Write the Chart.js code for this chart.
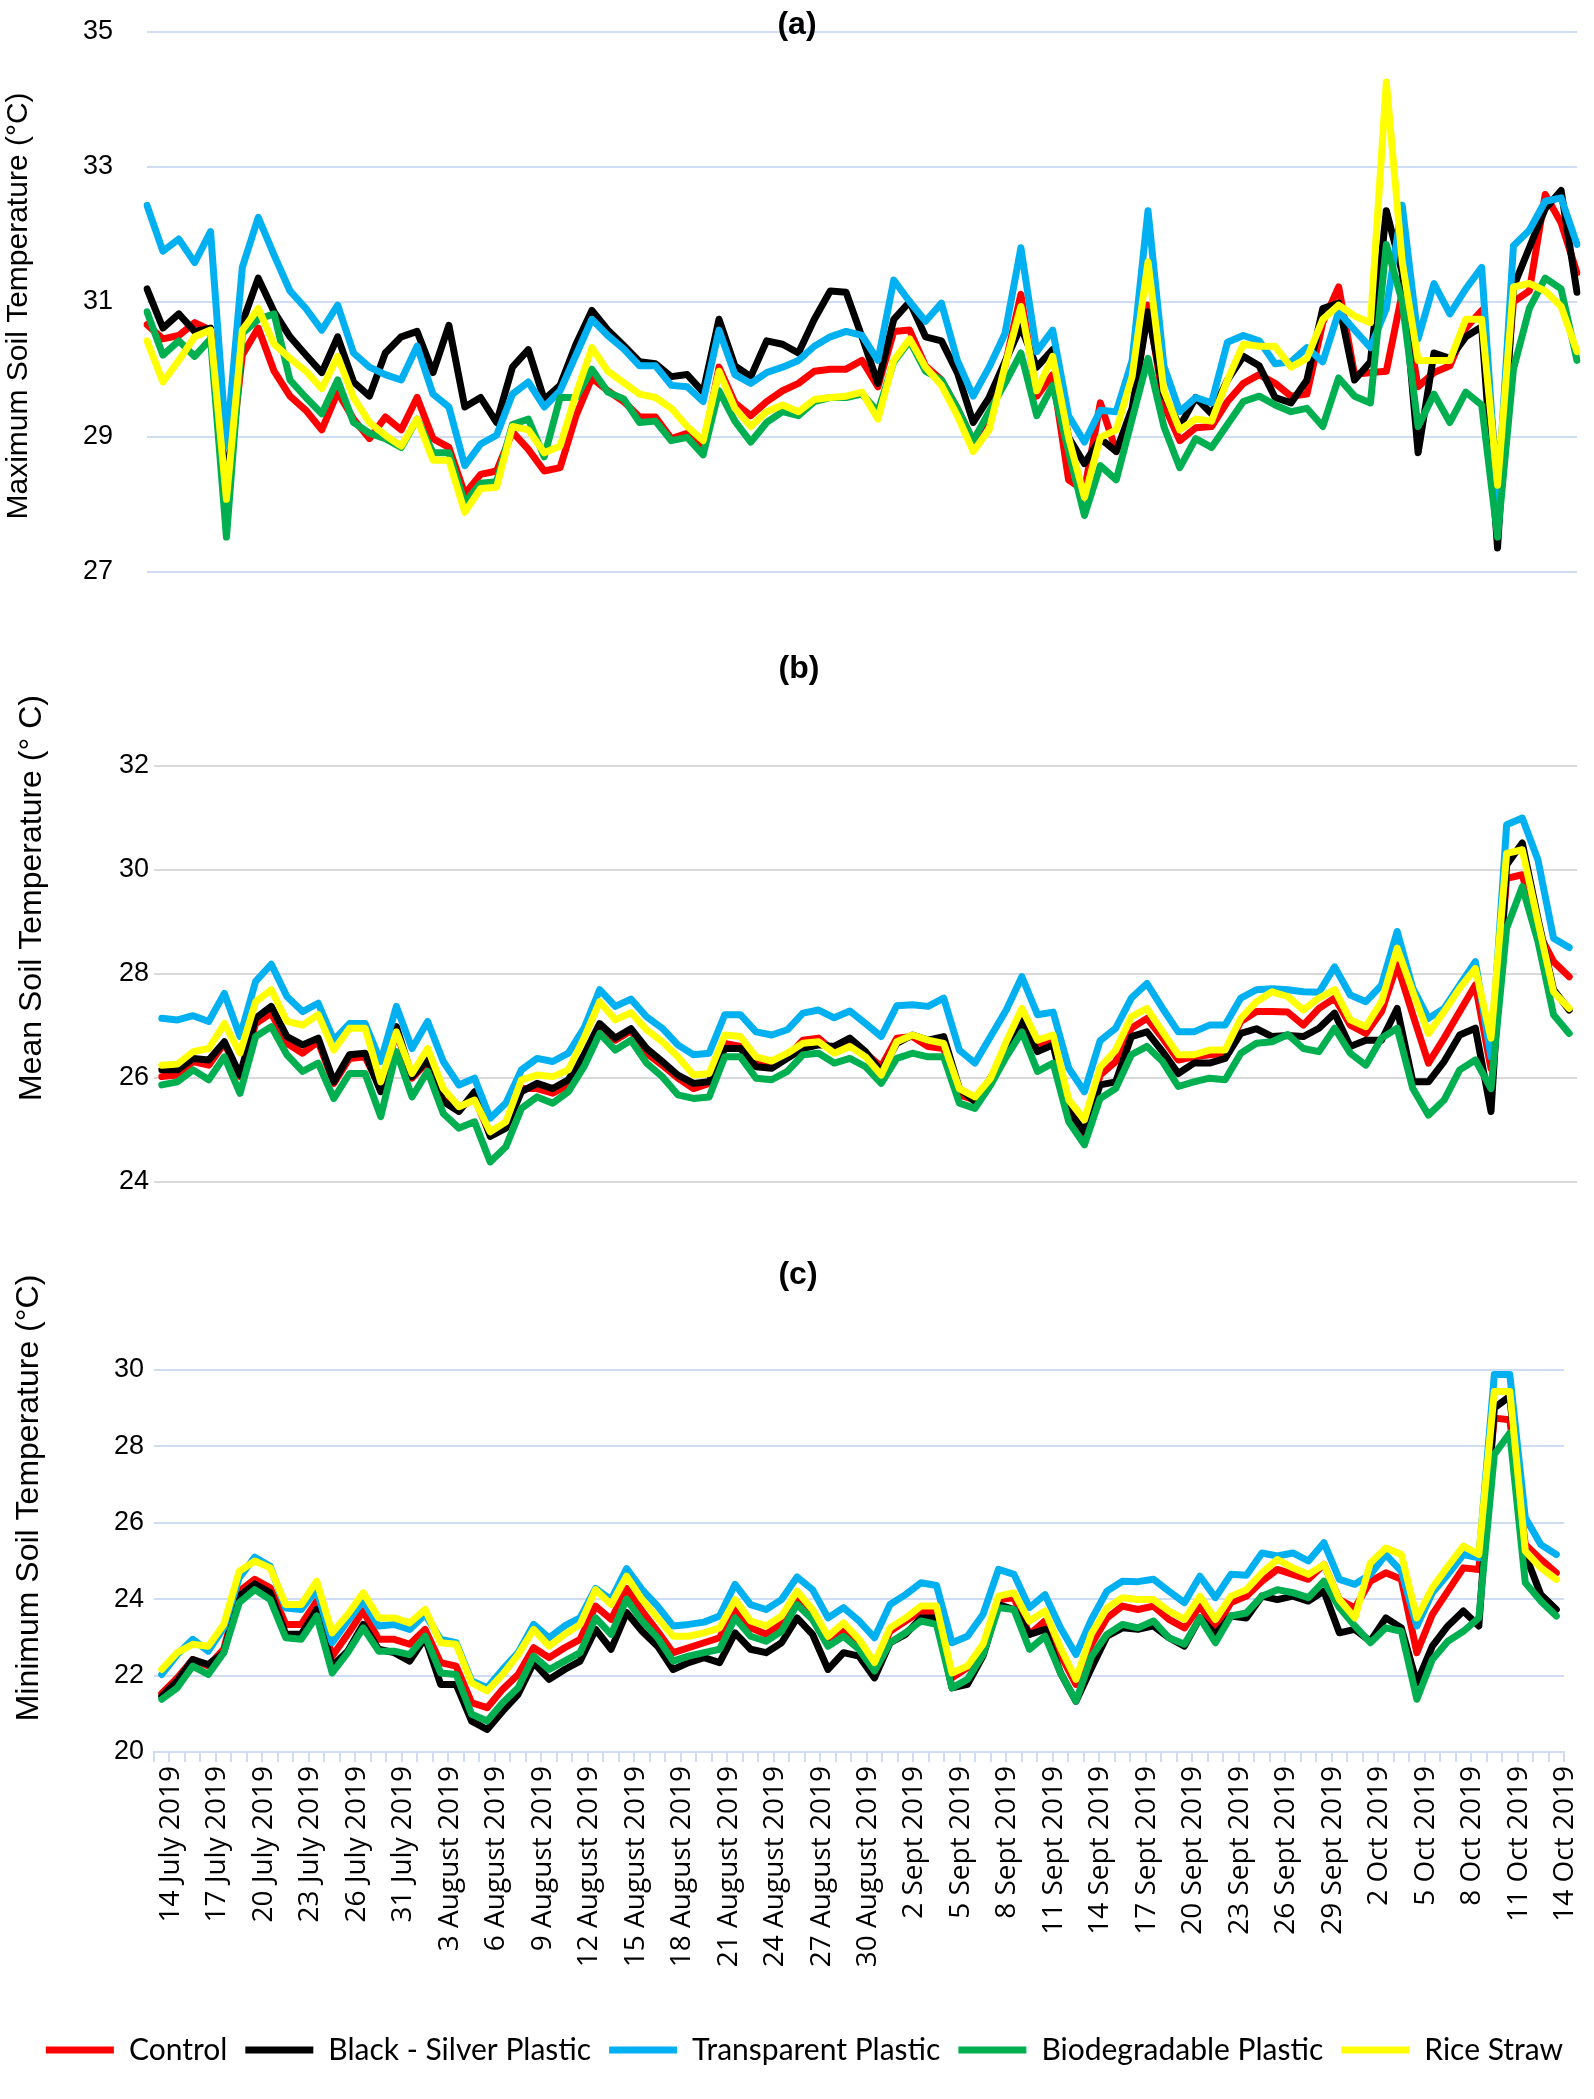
<!DOCTYPE html>
<html>
<head>
<meta charset="utf-8">
<script src="https://cdn.jsdelivr.net/npm/chart.js@4.4.1/dist/chart.umd.min.js"></script>
<style>
  body { margin: 0; background: #fff; }
  #wrap { position: relative; width: 1594px; height: 2099px; }
  canvas { position: absolute; left: 0; }
</style>
</head>
<body>
<div id="wrap">
  <canvas id="maxChart" width="1594" height="600" style="top:0px"></canvas>
  <canvas id="meanChart" width="1594" height="580" style="top:640px"></canvas>
  <canvas id="minChart" width="1594" height="849" style="top:1250px"></canvas>
</div>
<script>
// days of each month that were measured (27-28 July missing)
const julyDays = [14, 15, 16, 17, 18, 19, 20, 21, 22, 23, 24, 25, 26, 29, 30, 31];
const augustDays = [1, 2, 3, 4, 5, 6, 7, 8, 9, 10, 11, 12, 13, 14, 15, 16, 17, 18, 19, 20, 21, 22, 23, 24, 25, 26, 27, 28, 29, 30, 31];
const septDays = [1, 2, 3, 4, 5, 6, 7, 8, 9, 10, 11, 12, 13, 14, 15, 16, 17, 18, 19, 20, 21, 22, 23, 24, 25, 26, 27, 28, 29, 30];
const octDays = [1, 2, 3, 4, 5, 6, 7, 8, 9, 10, 11, 12, 13, 14];
const dates = [
  ...julyDays.map(d => d + " July 2019"),
  ...augustDays.map(d => d + " August 2019"),
  ...septDays.map(d => d + " Sept 2019"),
  ...octDays.map(d => d + " Oct 2019"),
];

const seriesNames = ["Control", "Black - Silver Plastic", "Transparent Plastic", "Biodegradable Plastic", "Rice Straw"];
const seriesColors = ["#ff0000", "#000000", "#00b0f0", "#00b050", "#ffff00"];

// (a) maximum soil temperature
const maxControl = [30.66, 30.45, 30.5, 30.69, 30.58, 28.1, 30.21, 30.61, 29.97, 29.6, 29.39, 29.1, 29.66, 29.26, 28.97, 29.29, 29.1, 29.58, 28.97, 28.84, 28.15, 28.44, 28.49, 29.07, 28.81, 28.49, 28.54, 29.31, 29.87, 29.68, 29.52,
  29.29, 29.29, 28.97, 29.05, 28.84, 30.03, 29.5, 29.31, 29.52, 29.68, 29.79, 29.97, 30.0, 30.0, 30.13, 29.74, 30.56, 30.58, 30.05, 29.84, 29.42, 28.94, 29.31, 30.05, 31.11, 29.6, 29.92, 28.36, 28.2, 29.5,
  28.78, 29.31, 30.95, 29.47, 28.94, 29.13, 29.15, 29.52, 29.79, 29.92, 29.79, 29.6, 29.63, 30.69, 31.22, 29.92, 29.95, 29.97, 31.13, 29.74, 29.95, 30.05, 30.61, 30.87, 28.3, 31.0, 31.16, 32.59, 32.17, 31.43];
const maxBlack = [31.19, 30.61, 30.82, 30.56, 30.61, 28.2, 30.69, 31.35, 30.85, 30.48, 30.21, 29.95, 30.48, 29.81, 29.6, 30.24, 30.48, 30.56, 29.95, 30.65, 29.44, 29.58, 29.21, 30.03, 30.29, 29.55, 29.76, 30.37, 30.87, 30.58, 30.35,
  30.11, 30.08, 29.89, 29.92, 29.66, 30.74, 30.05, 29.89, 30.42, 30.37, 30.24, 30.74, 31.16, 31.14, 30.48, 29.79, 30.74, 31.0, 30.48, 30.42, 29.95, 29.21, 29.58, 30.11, 30.63, 30.03, 30.29, 28.99, 28.6, 28.97,
  28.78, 29.42, 30.85, 29.63, 29.15, 29.58, 29.34, 29.84, 30.19, 30.05, 29.58, 29.5, 29.84, 30.9, 30.98, 29.84, 30.11, 32.35, 31.43, 28.76, 30.24, 30.16, 30.48, 30.63, 27.35, 31.22, 31.8, 32.38, 32.65, 31.14];
const maxTransparent = [32.43, 31.75, 31.93, 31.58, 32.04, 28.86, 31.51, 32.25, 31.69, 31.16, 30.9, 30.58, 30.95, 30.24, 30.03, 29.92, 29.84, 30.34, 29.63, 29.44, 28.57, 28.89, 29.02, 29.63, 29.81, 29.44, 29.68, 30.21, 30.74, 30.5, 30.3,
  30.05, 30.05, 29.76, 29.74, 29.52, 30.58, 29.92, 29.79, 29.95, 30.03, 30.13, 30.34, 30.48, 30.56, 30.5, 30.13, 31.32, 31.0, 30.71, 30.98, 30.13, 29.6, 30.03, 30.53, 31.8, 30.26, 30.58, 29.31, 28.92, 29.39,
  29.37, 30.13, 32.35, 30.05, 29.37, 29.58, 29.5, 30.4, 30.5, 30.42, 30.08, 30.11, 30.32, 30.11, 30.85, 30.58, 30.32, 30.9, 32.43, 30.45, 31.27, 30.82, 31.19, 31.51, 28.04, 31.83, 32.06, 32.49, 32.54, 31.85];
const maxBiodegradable = [30.85, 30.21, 30.42, 30.19, 30.45, 27.51, 30.53, 30.74, 30.82, 29.84, 29.58, 29.34, 29.84, 29.21, 29.05, 28.97, 28.84, 29.26, 28.76, 28.76, 28.02, 28.31, 28.33, 29.18, 29.26, 28.7, 29.58, 29.58, 30.0, 29.66, 29.56,
  29.21, 29.23, 28.94, 28.99, 28.73, 29.68, 29.23, 28.92, 29.21, 29.37, 29.31, 29.52, 29.58, 29.58, 29.63, 29.37, 30.11, 30.42, 29.97, 29.84, 29.42, 28.94, 29.37, 29.79, 30.24, 29.31, 29.76, 28.78, 27.83, 28.57,
  28.36, 29.26, 30.16, 29.15, 28.54, 28.97, 28.84, 29.18, 29.52, 29.6, 29.47, 29.37, 29.42, 29.15, 29.87, 29.6, 29.5, 31.85, 31.0, 29.15, 29.63, 29.21, 29.66, 29.47, 27.51, 30.0, 30.9, 31.35, 31.19, 30.13];
const maxRiceStraw = [30.42, 29.81, 30.13, 30.48, 30.58, 28.07, 30.58, 30.9, 30.37, 30.16, 29.97, 29.71, 30.19, 29.58, 29.21, 29.02, 28.86, 29.26, 28.65, 28.65, 27.88, 28.23, 28.25, 29.15, 29.1, 28.76, 28.86, 29.63, 30.32, 29.97, 29.8,
  29.63, 29.58, 29.42, 29.15, 28.94, 29.97, 29.42, 29.15, 29.37, 29.47, 29.37, 29.55, 29.58, 29.6, 29.66, 29.26, 30.13, 30.45, 30.03, 29.76, 29.31, 28.78, 29.1, 30.05, 30.93, 29.68, 30.19, 28.99, 28.1, 28.99,
  29.1, 29.89, 31.59, 29.68, 29.1, 29.26, 29.23, 29.84, 30.37, 30.34, 30.34, 30.03, 30.16, 30.74, 30.95, 30.79, 30.69, 34.26, 31.59, 30.13, 30.13, 30.13, 30.74, 30.74, 28.28, 31.22, 31.27, 31.16, 30.93, 30.26];

// (b) mean soil temperature
const meanControl = [26.02, 26.05, 26.31, 26.24, 26.66, 26.02, 27.04, 27.24, 26.66, 26.47, 26.69, 25.89, 26.37, 26.4, 25.79, 26.88, 25.99, 26.31, 25.57, 25.41, 25.6, 24.9, 25.12, 25.79, 25.79, 25.7, 25.86, 26.37, 27.01, 26.72, 26.9,
  26.47, 26.24, 25.99, 25.79, 25.89, 26.66, 26.6, 26.28, 26.21, 26.4, 26.72, 26.76, 26.5, 26.69, 26.47, 26.21, 26.76, 26.79, 26.6, 26.56, 25.67, 25.57, 25.99, 26.6, 27.17, 26.6, 26.76, 25.41, 24.9, 26.05,
  26.31, 26.95, 27.14, 26.76, 26.34, 26.4, 26.44, 26.47, 27.08, 27.27, 27.27, 27.26, 27.01, 27.33, 27.53, 27.01, 26.85, 27.27, 28.17, 27.21, 26.28, 26.76, 27.27, 27.78, 26.18, 29.83, 29.9, 28.81, 28.23, 27.94];
const meanBlack = [26.15, 26.15, 26.37, 26.34, 26.69, 26.05, 27.14, 27.37, 26.79, 26.63, 26.76, 25.92, 26.44, 26.47, 25.73, 26.98, 26.02, 26.34, 25.54, 25.35, 25.73, 24.87, 25.03, 25.73, 25.89, 25.79, 25.96, 26.44, 27.04, 26.76, 26.94,
  26.56, 26.31, 26.05, 25.89, 25.92, 26.56, 26.56, 26.21, 26.18, 26.37, 26.56, 26.63, 26.6, 26.76, 26.5, 26.12, 26.66, 26.82, 26.72, 26.79, 25.79, 25.54, 25.99, 26.5, 27.08, 26.5, 26.63, 25.35, 24.96, 25.86,
  25.92, 26.79, 26.88, 26.5, 26.08, 26.28, 26.28, 26.37, 26.85, 26.94, 26.79, 26.81, 26.79, 26.95, 27.24, 26.6, 26.72, 26.72, 27.33, 25.92, 25.92, 26.31, 26.82, 26.95, 25.35, 30.09, 30.51, 29.06, 27.69, 27.3];
const meanTransparent = [27.14, 27.11, 27.19, 27.08, 27.62, 26.79, 27.85, 28.18, 27.56, 27.27, 27.43, 26.72, 27.04, 27.04, 26.31, 27.37, 26.56, 27.08, 26.31, 25.86, 25.99, 25.22, 25.51, 26.15, 26.37, 26.31, 26.47, 26.95, 27.69, 27.37, 27.51,
  27.17, 26.95, 26.63, 26.44, 26.47, 27.21, 27.21, 26.88, 26.82, 26.92, 27.24, 27.3, 27.15, 27.28, 27.04, 26.79, 27.38, 27.4, 27.37, 27.53, 26.53, 26.28, 26.79, 27.3, 27.94, 27.21, 27.26, 26.18, 25.73, 26.71,
  26.95, 27.53, 27.81, 27.33, 26.88, 26.88, 27.01, 27.01, 27.53, 27.69, 27.71, 27.69, 27.65, 27.64, 28.13, 27.59, 27.46, 27.78, 28.81, 27.72, 27.14, 27.33, 27.78, 28.23, 26.4, 30.86, 30.99, 30.19, 28.68, 28.5];
const meanBiodegradable = [25.86, 25.92, 26.15, 25.96, 26.4, 25.7, 26.79, 26.98, 26.44, 26.12, 26.28, 25.6, 26.08, 26.08, 25.25, 26.5, 25.63, 26.12, 25.31, 25.03, 25.15, 24.38, 24.67, 25.41, 25.63, 25.51, 25.73, 26.21, 26.85, 26.53, 26.72,
  26.28, 26.02, 25.67, 25.6, 25.63, 26.4, 26.4, 25.99, 25.96, 26.12, 26.44, 26.47, 26.28, 26.37, 26.21, 25.89, 26.37, 26.47, 26.4, 26.4, 25.51, 25.41, 25.86, 26.4, 26.88, 26.12, 26.28, 25.15, 24.71, 25.6,
  25.79, 26.44, 26.6, 26.31, 25.83, 25.92, 25.99, 25.96, 26.47, 26.66, 26.69, 26.83, 26.56, 26.5, 26.95, 26.47, 26.24, 26.76, 26.95, 25.79, 25.28, 25.57, 26.15, 26.34, 25.79, 28.87, 29.67, 28.62, 27.21, 26.85];
const meanRiceStraw = [26.24, 26.26, 26.5, 26.56, 27.04, 26.47, 27.46, 27.69, 27.08, 27.01, 27.21, 26.53, 26.95, 26.95, 25.92, 26.88, 26.08, 26.56, 25.79, 25.44, 25.57, 24.96, 25.15, 25.96, 26.05, 26.02, 26.15, 26.76, 27.46, 27.11, 27.25,
  26.92, 26.69, 26.4, 26.05, 26.08, 26.82, 26.79, 26.4, 26.32, 26.47, 26.66, 26.69, 26.47, 26.6, 26.4, 26.05, 26.69, 26.82, 26.72, 26.66, 25.79, 25.63, 25.99, 26.69, 27.33, 26.72, 26.82, 25.57, 25.19, 26.2,
  26.53, 27.17, 27.33, 26.88, 26.44, 26.44, 26.53, 26.53, 27.14, 27.46, 27.65, 27.56, 27.3, 27.53, 27.69, 27.11, 26.98, 27.46, 28.49, 27.65, 26.85, 27.27, 27.72, 28.1, 26.76, 30.31, 30.38, 29.0, 27.65, 27.33];

// (c) minimum soil temperature
const minControl = [21.53, 21.94, 22.42, 22.25, 22.69, 24.21, 24.52, 24.3, 23.34, 23.34, 23.95, 22.51, 23.08, 23.69, 22.95, 22.95, 22.82, 23.21, 22.34, 22.25, 21.29, 21.16, 21.64, 22.03, 22.73, 22.47, 22.73, 22.95, 23.82, 23.47, 24.28,
  23.69, 23.16, 22.6, 22.73, 22.86, 22.99, 23.78, 23.25, 23.08, 23.38, 23.99, 23.6, 22.9, 23.21, 22.86, 22.29, 23.16, 23.43, 23.69, 23.64, 21.94, 22.21, 22.69, 23.99, 24.04, 23.08, 23.43, 22.55, 21.77, 22.82,
  23.51, 23.82, 23.73, 23.82, 23.47, 23.25, 23.82, 23.25, 23.91, 24.08, 24.47, 24.78, 24.65, 24.52, 24.91, 23.99, 23.77, 24.47, 24.69, 24.52, 22.6, 23.6, 24.21, 24.82, 24.78, 28.74, 28.7, 25.43, 25.04, 24.69];
const minBlack = [21.46, 21.86, 22.42, 22.29, 22.6, 24.08, 24.4, 24.17, 23.08, 23.08, 23.73, 22.25, 22.64, 23.34, 22.69, 22.6, 22.38, 22.99, 21.77, 21.77, 20.81, 20.59, 21.07, 21.51, 22.34, 21.9, 22.16, 22.38, 23.21, 22.69, 23.65,
  23.16, 22.77, 22.16, 22.34, 22.47, 22.34, 23.12, 22.69, 22.6, 22.86, 23.51, 23.08, 22.16, 22.6, 22.51, 21.94, 22.86, 23.08, 23.51, 23.51, 21.68, 21.77, 22.51, 23.86, 23.73, 23.08, 23.21, 22.07, 21.33, 22.2,
  23.03, 23.25, 23.21, 23.3, 22.99, 22.77, 23.51, 23.08, 23.56, 23.51, 24.08, 23.99, 24.08, 23.95, 24.21, 23.12, 23.21, 22.9, 23.51, 23.25, 21.81, 22.77, 23.3, 23.69, 23.3, 29.01, 29.31, 25.17, 24.12, 23.73];
const minTransparent = [22.03, 22.55, 22.95, 22.64, 23.25, 24.56, 25.1, 24.86, 23.77, 23.73, 24.25, 22.86, 23.43, 23.95, 23.3, 23.34, 23.21, 23.6, 22.95, 22.86, 21.86, 21.68, 22.16, 22.6, 23.34, 22.99, 23.3, 23.51, 24.28, 23.99, 24.8,
  24.25, 23.82, 23.3, 23.34, 23.4, 23.56, 24.39, 23.86, 23.73, 23.99, 24.58, 24.25, 23.51, 23.78, 23.43, 22.99, 23.86, 24.12, 24.43, 24.36, 22.86, 23.03, 23.6, 24.78, 24.65, 23.78, 24.12, 23.25, 22.55, 23.47,
  24.21, 24.47, 24.46, 24.52, 24.21, 23.91, 24.6, 24.04, 24.65, 24.63, 25.21, 25.13, 25.21, 25.0, 25.48, 24.52, 24.39, 24.65, 25.17, 24.73, 23.3, 24.17, 24.65, 25.17, 25.08, 29.88, 29.88, 26.13, 25.43, 25.17];
const minBiodegradable = [21.38, 21.68, 22.25, 22.03, 22.6, 23.91, 24.25, 23.99, 22.99, 22.95, 23.56, 22.07, 22.6, 23.25, 22.64, 22.64, 22.55, 23.03, 22.07, 22.03, 20.99, 20.81, 21.29, 21.68, 22.51, 22.16, 22.38, 22.6, 23.51, 23.08, 24.0,
  23.43, 22.99, 22.38, 22.51, 22.6, 22.69, 23.51, 23.03, 22.9, 23.16, 23.86, 23.47, 22.77, 23.03, 22.69, 22.12, 22.86, 23.12, 23.43, 23.34, 21.68, 21.9, 22.55, 23.78, 23.73, 22.69, 23.03, 22.07, 21.33, 22.5,
  23.08, 23.34, 23.25, 23.43, 22.99, 22.82, 23.51, 22.86, 23.56, 23.64, 24.08, 24.25, 24.17, 24.04, 24.47, 23.78, 23.3, 22.86, 23.25, 23.16, 21.38, 22.42, 22.9, 23.16, 23.51, 27.79, 28.35, 24.43, 23.95, 23.56];
const minRiceStraw = [22.16, 22.6, 22.82, 22.77, 23.34, 24.73, 25.0, 24.82, 23.86, 23.86, 24.47, 23.12, 23.6, 24.17, 23.51, 23.51, 23.38, 23.73, 22.86, 22.82, 21.81, 21.6, 22.03, 22.55, 23.21, 22.77, 23.08, 23.34, 24.25, 23.86, 24.6,
  23.99, 23.51, 23.03, 23.03, 23.12, 23.25, 23.99, 23.43, 23.3, 23.56, 24.21, 23.73, 23.03, 23.38, 22.95, 22.34, 23.25, 23.51, 23.82, 23.82, 22.07, 22.25, 22.82, 24.08, 24.17, 23.43, 23.69, 22.73, 21.9, 23.1,
  23.77, 24.04, 23.99, 23.99, 23.69, 23.47, 24.08, 23.47, 24.08, 24.25, 24.69, 25.04, 24.82, 24.65, 24.91, 23.99, 23.51, 24.95, 25.34, 25.17, 23.51, 24.3, 24.86, 25.39, 25.17, 29.44, 29.44, 25.26, 24.82, 24.52];

const ARIAL = "'Liberation Sans', Arial, sans-serif";
Chart.defaults.font.family = ARIAL;
Chart.defaults.color = "#000";

// panel letter and rotated axis title, drawn at fixed spots on the canvas
const panelText = {
  id: "panelText",
  afterDraw(chart, args, opts) {
    const ctx = chart.ctx;
    ctx.save();
    ctx.fillStyle = "#000";
    ctx.textAlign = "center";
    ctx.textBaseline = "middle";
    ctx.font = "bold 32px " + ARIAL;
    ctx.fillText(opts.label, opts.labelX, opts.labelY);
    ctx.translate(opts.axisX, opts.axisY);
    ctx.rotate(-Math.PI / 2);
    ctx.font = opts.axisSize + "px " + ARIAL;
    ctx.fillText(opts.axisTitle, 0, 0);
    ctx.restore();
  },
};

// nudge the legend row sideways without moving the plot area
const legendShift = {
  id: "legendShift",
  afterLayout(chart, args, opts) {
    if (chart.legend && opts.dx) {
      chart.legend.left += opts.dx;
      chart.legend.right += opts.dx;
    }
  },
};

function makeDatasets(valueLists) {
  return valueLists.map((values, i) => ({
    label: seriesNames[i],
    data: values,
    borderColor: seriesColors[i],
    backgroundColor: seriesColors[i],
    borderWidth: 7,
    borderJoinStyle: "round",
    borderCapStyle: "round",
    pointRadius: 0,
    tension: 0,
    order: 5 - i, // Rice Straw drawn on top, like the original
  }));
}

function makePanel(id, cfg) {
  const ctx = document.getElementById(id).getContext("2d");
  const isBottom = !!cfg.bottom;
  return new Chart(ctx, {
    type: "line",
    data: { labels: dates, datasets: makeDatasets(cfg.series) },
    plugins: [panelText, legendShift],
    options: {
      responsive: false,
      animation: false,
      devicePixelRatio: 1,
      layout: { padding: cfg.padding },
      scales: {
        x: isBottom ? {
          offset: true,
          grid: { offset: true, drawOnChartArea: false, drawTicks: true, tickLength: 10, color: "#cfdcf1", lineWidth: 2 },
          border: { color: "#cfdcf1", width: 2 },
          ticks: {
            autoSkip: false,
            minRotation: 90,
            maxRotation: 90,
            padding: 4,
            labelOffset: 9,
            color: "#000",
            font: { family: "'Open Sans', sans-serif", size: 28 },
            callback(value, index) {
              return index % 3 === 0 ? this.getLabelForValue(value) : "";
            },
          },
          afterFit(scale) { scale.height = cfg.xHeight; },
        } : {
          display: false,
          offset: cfg.offset,
        },
        y: {
          min: cfg.yMin,
          max: cfg.yMax,
          ticks: { stepSize: 2, padding: cfg.tickPad, crossAlign: cfg.crossAlign || "near", color: "#000", font: { size: 27 } },
          grid: { color: cfg.gridColor, lineWidth: 2, drawTicks: false },
          border: { display: false },
          afterFit(scale) { scale.width = cfg.yWidth; },
        },
      },
      plugins: {
        legend: isBottom ? {
          position: "bottom",
          labels: {
            usePointStyle: true,
            pointStyle: "line",
            pointStyleWidth: 68,
            padding: 18,
            color: "#000",
            font: { family: "Lato, sans-serif", size: 30 },
            sort: (a, b) => a.datasetIndex - b.datasetIndex,
          },
        } : { display: false },
        legendShift: { dx: isBottom ? 16 : 0 },
        tooltip: { enabled: false },
        panelText: cfg.text,
      },
    },
  });
}

document.addEventListener("DOMContentLoaded", () => {
  // (a) Maximum: labels left-aligned from x=83, so no tick padding inflates the plot margins
  makePanel("maxChart", {
    series: [maxControl, maxBlack, maxTransparent, maxBiodegradable, maxRiceStraw],
    yMin: 27, yMax: 35, yWidth: 64, offset: false, tickPad: 0, crossAlign: "far",
    gridColor: "#cfdcf1",
    padding: { left: 83, right: 17, top: 32, bottom: 28.5 },
    text: { label: "(a)", labelX: 797, labelY: 25, axisTitle: "Maximum Soil Temperature (°C)", axisSize: 30, axisX: 19, axisY: 306 },
  });

  // (b) Mean
  makePanel("meanChart", {
    series: [meanControl, meanBlack, meanTransparent, meanBiodegradable, meanRiceStraw],
    yMin: 24, yMax: 32, yWidth: 154, offset: true, tickPad: 5,
    gridColor: "#d9d9d9",
    padding: { left: 0, right: 17, top: 125.5, bottom: 38.3 },
    text: { label: "(b)", labelX: 799, labelY: 29, axisTitle: "Mean Soil Temperature (° C)", axisSize: 32, axisX: 32, axisY: 258 },
  });

  // (c) Minimum, with the date axis and the legend
  makePanel("minChart", {
    bottom: true,
    series: [minControl, minBlack, minTransparent, minBiodegradable, minRiceStraw],
    yMin: 20, yMax: 30, yWidth: 154, tickPad: 10,
    gridColor: "#cfdcf1",
    xHeight: 265,
    padding: { left: 0, right: 17, top: 120, bottom: 24 },
    text: { label: "(c)", labelX: 798, labelY: 25, axisTitle: "Minimum Soil Temperature (°C)", axisSize: 32, axisX: 29, axisY: 248 },
  });
});
</script>
</body>
</html>
